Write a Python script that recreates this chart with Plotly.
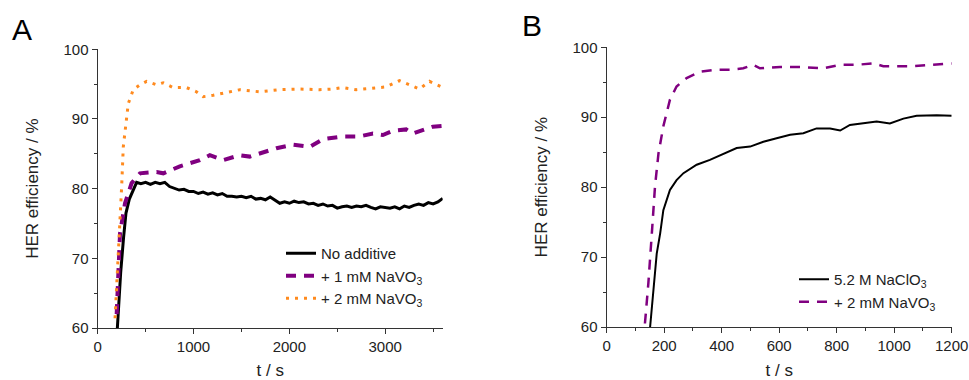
import plotly.graph_objects as go

# ---------------- Panel A data ----------------
t_a_none = [205, 240, 270, 295, 330, 371, 406, 450, 500, 550, 600, 650, 700, 750, 800, 850, 900, 950,
            1000, 1050, 1100, 1150, 1200, 1250, 1300, 1350, 1400, 1450, 1500, 1550, 1600, 1650, 1700,
            1750, 1800, 1850, 1900, 1950, 2000, 2050, 2100, 2150, 2200, 2250, 2300, 2350, 2400, 2450,
            2500, 2550, 2600, 2650, 2700, 2750, 2800, 2850, 2900, 2950, 3000, 3050, 3100, 3150, 3200,
            3250, 3300, 3350, 3400, 3450, 3500, 3550, 3600]
y_a_none = [60, 68, 73, 76.5, 78.5, 79.8, 80.9, 80.7, 80.9, 80.6, 80.9, 80.7, 80.9, 80.3, 80.1, 79.8, 79.9, 79.6,
            79.6, 79.3, 79.5, 79.2, 79.4, 79.1, 79.3, 78.9, 78.9, 78.8, 78.9, 78.7, 78.9, 78.5, 78.6,
            78.4, 78.8, 78.4, 77.9, 78.1, 77.9, 78.2, 78.0, 78.1, 77.8, 77.9, 77.6, 77.8, 77.5, 77.6,
            77.2, 77.4, 77.5, 77.3, 77.5, 77.4, 77.6, 77.3, 77.1, 77.4, 77.3, 77.2, 77.4, 77.1, 77.5,
            77.3, 77.6, 77.8, 77.6, 78.0, 77.8, 78.1, 78.6]

t_a_1mm = [198, 233, 285, 354, 441, 615, 684, 857, 1066, 1170, 1309, 1483, 1587, 1865, 2035, 2212,
           2351, 2559, 2733, 2872, 2976, 3080, 3219, 3288, 3497, 3590]
y_a_1mm = [62, 73.6, 77.9, 80.8, 82.2, 82.4, 82.2, 83.2, 84.1, 84.8, 84.1, 84.8, 84.6, 85.8, 86.3, 86.0,
           87.1, 87.5, 87.5, 87.9, 87.7, 88.3, 88.5, 87.9, 88.9, 89.0]

t_a_2mm = [181, 198, 215, 233, 250, 267, 295, 319, 371, 441, 510, 615, 684, 788, 927, 1031, 1101, 1205,
           1344, 1483, 1691, 1899, 2108, 2316, 2455, 2559, 2698, 2872, 3010, 3149, 3253, 3358, 3462, 3590]
y_a_2mm = [61.4, 65.9, 70.2, 74.5, 80.3, 86.0, 89.5, 92.2, 94.2, 94.9, 95.4, 94.9, 95.2, 94.5, 94.5, 93.9, 93.2, 93.4,
           93.8, 94.2, 93.9, 94.2, 94.3, 94.2, 94.3, 94.5, 94.2, 94.4, 94.6, 95.5, 94.9, 94.3, 95.4, 94.6]

# ---------------- Panel B data ----------------
t_b_base = [151, 162, 174, 186, 197, 220, 243, 267, 313, 359, 406, 452, 499, 545, 591, 638, 684, 730,
            777, 812, 846, 893, 939, 985, 1032, 1078, 1148, 1200]
y_b_base = [60, 64.8, 70.5, 73.4, 76.7, 79.6, 81.0, 82.0, 83.2, 83.9, 84.8, 85.6, 85.8, 86.5, 87.0, 87.5, 87.7, 88.4,
            88.4, 88.1, 88.9, 89.1, 89.4, 89.1, 89.8, 90.2, 90.3, 90.2]

t_b_2mm = [133, 145, 157, 168, 180, 197, 220, 243, 278, 325, 383, 429, 475, 510, 533, 603, 661, 754,
           812, 870, 928, 962, 1067, 1125, 1200]
y_b_2mm = [60.5, 66.3, 73.4, 80.1, 84.8, 88.7, 92.5, 94.4, 95.6, 96.5, 96.8, 96.8, 97.0, 97.5, 97.0, 97.2, 97.2, 97.0,
           97.5, 97.5, 97.7, 97.3, 97.3, 97.5, 97.7]

FONT = "Arial, Liberation Sans, sans-serif"
TXT = "#222222"
PURPLE = "#800080"
ORANGE = "#FF8A1E"

W, H = 969, 380


def fx(px):
    return px / W


def fy(py):
    return 1 - py / H


fig = go.Figure()
fig.add_trace(go.Scatter(x=t_a_none, y=y_a_none, mode="lines", name="No additive",
                         line=dict(color="black", width=3), xaxis="x", yaxis="y", legend="legend"))
fig.add_trace(go.Scatter(x=t_a_1mm, y=y_a_1mm, mode="lines", name="+ 1 mM NaVO<sub>3</sub>",
                         line=dict(color=PURPLE, width=4, dash="10px,8px"), xaxis="x", yaxis="y", legend="legend"))
fig.add_trace(go.Scatter(x=t_a_2mm, y=y_a_2mm, mode="lines", name="+ 2 mM NaVO<sub>3</sub>",
                         line=dict(color=ORANGE, width=3, dash="3px,6px"), xaxis="x", yaxis="y", legend="legend"))

fig.add_trace(go.Scatter(x=t_b_base, y=y_b_base, mode="lines", name="5.2 M NaClO<sub>3</sub>",
                         line=dict(color="black", width=2), xaxis="x2", yaxis="y2", legend="legend2"))
fig.add_trace(go.Scatter(x=t_b_2mm, y=y_b_2mm, mode="lines", name="+ 2 mM NaVO<sub>3</sub>",
                         line=dict(color=PURPLE, width=2.5, dash="10px,8px"), xaxis="x2", yaxis="y2", legend="legend2"))

axis_common = dict(showline=True, linecolor="#333333", linewidth=1.3, ticks="outside", ticklen=5,
                   tickwidth=1.2, tickcolor="#333333", showgrid=False, zeroline=False, automargin=False,
                   tickfont=dict(family=FONT, size=15, color=TXT), mirror=False)

fig.update_layout(
    width=W, height=H,
    paper_bgcolor="white", plot_bgcolor="white",
    margin=dict(l=0, r=0, t=0, b=0, autoexpand=False),
    font=dict(family=FONT, color=TXT),
    xaxis=dict(domain=[fx(97.7), fx(442.7)], range=[0, 3600], tickvals=[0, 1000, 2000, 3000],
               minor=dict(ticks="outside", ticklen=3, dtick=500, tickcolor="#333333", showgrid=False),
               title=dict(text="t / s", font=dict(family=FONT, size=17, color=TXT), standoff=14),
               anchor="y", **axis_common),
    yaxis=dict(domain=[fy(328), fy(49.3)], range=[60, 100], dtick=10,
               minor=dict(ticks="outside", ticklen=3, dtick=5, tickcolor="#333333", showgrid=False),
               title=dict(text="HER efficiency / %", font=dict(family=FONT, size=17, color=TXT), standoff=20),
               anchor="x", **axis_common),
    xaxis2=dict(domain=[fx(606.7), fx(951.7)], range=[0, 1200], dtick=200,
                minor=dict(ticks="outside", ticklen=3, dtick=100, tickcolor="#333333", showgrid=False),
                title=dict(text="t / s", font=dict(family=FONT, size=17, color=TXT), standoff=14),
                anchor="y2", **axis_common),
    yaxis2=dict(domain=[fy(327), fy(47.3)], range=[60, 100], dtick=10,
                minor=dict(ticks="outside", ticklen=3, dtick=5, tickcolor="#333333", showgrid=False),
                title=dict(text="HER efficiency / %", font=dict(family=FONT, size=17, color=TXT), standoff=20),
                anchor="x2", **axis_common),
    legend=dict(x=fx(281), y=fy(237), xanchor="left", yanchor="top", bgcolor="rgba(0,0,0,0)",
                font=dict(family=FONT, size=15, color=TXT), itemwidth=30, tracegroupgap=0),
    legend2=dict(x=fx(794), y=fy(263), xanchor="left", yanchor="top", bgcolor="rgba(0,0,0,0)",
                 font=dict(family=FONT, size=15, color=TXT), itemwidth=30, tracegroupgap=0),
    showlegend=True,
    annotations=[
        dict(text="A", x=fx(22), y=fy(29), xref="paper", yref="paper", showarrow=False,
             font=dict(family=FONT, size=30, color="black"), xanchor="center", yanchor="middle"),
        dict(text="B", x=fx(532), y=fy(26), xref="paper", yref="paper", showarrow=False,
             font=dict(family=FONT, size=30, color="black"), xanchor="center", yanchor="middle"),
    ],
)

fig.write_html(
    "out.html",
    config={"displayModeBar": False},
    post_script="document.body.style.margin='0';document.body.style.overflow='hidden';"
                "document.documentElement.style.overflow='hidden';",
)
